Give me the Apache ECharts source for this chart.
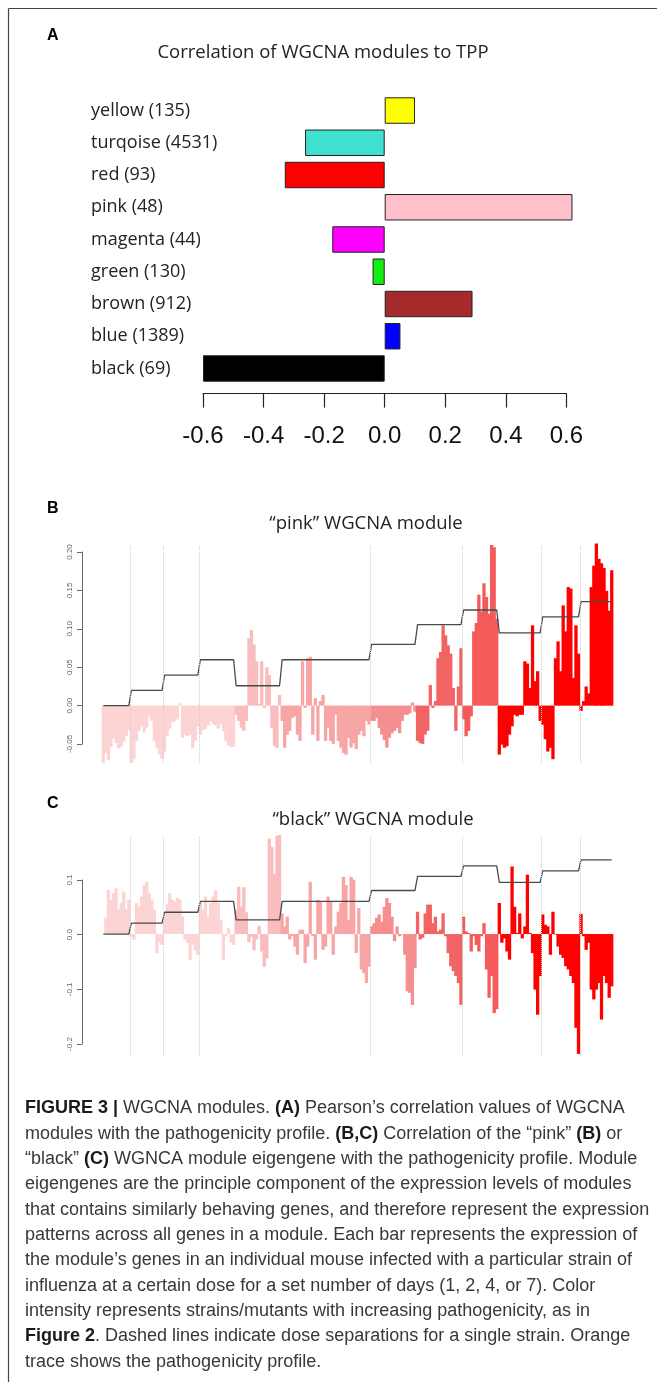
<!DOCTYPE html>
<html><head><meta charset="utf-8">
<script src="https://cdn.jsdelivr.net/npm/echarts@6/dist/echarts.min.js"></script>
<style>html,body{margin:0;padding:0;background:#fff}#c{width:657px;height:1382px}</style>
</head><body><div id="c"></div>
<script>
// ---------- Panel A data ----------
const moduleNames = ['yellow (135)','turqoise (4531)','red (93)','pink (48)','magenta (44)','green (130)','brown (912)','blue (1389)','black (69)'];
const moduleCorr = [0.10,-0.263,-0.33,0.62,-0.173,-0.04,0.29,0.052,-0.60];
const moduleColors = ['#ffff00','#40e0d0','#ff0000','#ffc0cb','#ff00ff','#11ee11','#a52a2a','#0000ff','#000000'];
const corrAxisMin = -0.6, corrAxisMax = 0.6, corrAxisStep = 0.2;

// ---------- Panels B/C data ----------
// number of mice (bars) in each strain/dose group, left to right
const groupSizes = [11,13,14,14,18,35,18,18,14,17,15,13];
// pathogenicity profile level of each group
const pathogenicity = [0,0.02,0.04,0.06,0.026,0.06,0.08,0.106,0.125,0.095,0.116,0.136];
// groups that begin after a dose separation (dashed lines)
const doseBreakGroups = [1,2,3,6,8,10,11];

const pinkEigengene = [
 -0.075,-0.062,-0.071,-0.054,-0.043,-0.049,-0.056,-0.054,-0.047,-0.040,-0.032,
 -0.075,-0.07,-0.046,-0.033,-0.027,-0.035,-0.029,-0.014,-0.02,-0.046,-0.055,-0.064,-0.07,
 -0.06,-0.04,-0.03,-0.022,-0.02,-0.018,0.003,-0.042,-0.038,-0.04,-0.038,-0.055,-0.046,-0.027,
 -0.038,-0.032,-0.03,-0.026,-0.02,-0.024,-0.026,-0.03,-0.024,-0.033,-0.046,-0.052,-0.054,-0.054,
 -0.012,-0.02,-0.029,-0.033,-0.02,0.088,0.099,0.08,0.058,0.002,0.058,-0.003,0.05,0.04,-0.029,-0.053,-0.055,0.014,
 -0.02,-0.055,-0.038,-0.033,-0.016,-0.014,-0.038,-0.046,0.058,-0.003,0.062,0.064,-0.038,0.01,-0.046,0.006,0.014,-0.046,-0.029,-0.046,-0.05,-0.012,-0.046,-0.055,-0.062,-0.064,-0.042,-0.055,-0.049,-0.057,-0.038,-0.033,-0.04,-0.02,-0.025,
 -0.02,-0.02,-0.016,-0.029,-0.038,-0.045,-0.055,-0.042,-0.036,-0.033,-0.029,-0.036,-0.02,-0.012,-0.012,-0.01,0.004,-0.008,
 -0.046,-0.049,-0.05,-0.038,-0.033,0.027,-0.003,0.006,0.062,0.07,0.105,0.092,0.079,0.068,0.023,-0.033,0.025,0.075,
 -0.018,-0.04,-0.033,-0.014,0.097,0.108,0.145,0.123,0.16,0.142,0.12,0.21,0.207,0.114,
 -0.064,-0.051,-0.055,-0.053,-0.038,-0.027,-0.012,-0.014,-0.012,-0.012,0.058,0.055,0.023,0.105,0.032,0.045,-0.02,
 -0.025,-0.044,-0.06,-0.055,-0.07,0.062,0.084,0.045,0.131,0.097,0.155,0.153,0.036,0.105,0.068,
 -0.007,0.006,0.025,0.016,0.155,0.183,0.212,0.192,0.186,0.18,0.15,0.124,0.177
];
const blackEigengene = [
 0.0,0.03,0.081,0.063,0.075,0.084,0.045,0.057,0.078,0.045,0.063,
 -0.005,-0.01,0.057,0.05,0.069,0.09,0.096,0.075,0.063,0.045,-0.035,-0.015,-0.02,
 0.032,0.055,0.075,0.063,0.06,0.066,0.063,0.032,-0.01,-0.016,-0.047,-0.02,-0.03,-0.038,
 0.057,0.045,0.069,0.032,0.057,0.069,0.08,0.057,0.026,-0.047,-0.004,0.011,-0.016,-0.02,
 0.045,0.087,0.05,0.086,0.04,-0.015,-0.005,-0.03,-0.01,0.015,-0.032,-0.06,-0.045,0.175,0.16,0.11,0.18,0.182,
 0.038,0.014,0.032,-0.01,-0.004,-0.023,-0.038,0.008,0.008,-0.053,-0.023,0.096,-0.004,-0.047,0.063,0.06,-0.029,-0.023,0.069,0.06,-0.038,0.014,0.041,0.057,0.105,0.09,0.026,0.105,0.1,-0.035,0.048,-0.065,-0.072,-0.09,-0.06,
 0.014,0.02,0.03,0.036,0.023,0.05,0.066,0.057,0.032,-0.013,0.014,-0.004,-0.001,-0.038,-0.105,-0.108,-0.13,-0.062,
 0.041,-0.01,-0.007,0.038,0.054,0.054,0.02,0.032,0.005,0.008,0.038,-0.004,-0.035,-0.059,-0.068,-0.077,-0.09,-0.13,
 0.032,0.005,0.002,-0.032,-0.004,-0.02,-0.032,-0.004,0.02,-0.065,-0.117,-0.077,-0.145,-0.138,
 0.057,-0.016,-0.008,-0.032,-0.047,0.124,0.05,0.002,0.038,-0.008,0.014,0.109,0.002,-0.035,-0.102,-0.148,-0.077,
 0.036,0.017,0.014,-0.038,0.041,-0.001,-0.023,-0.038,-0.044,-0.059,-0.065,-0.077,-0.09,-0.172,-0.22,
 0.037,-0.004,-0.029,-0.016,-0.102,-0.12,-0.102,-0.09,-0.157,-0.077,-0.09,-0.117,-0.096
];
const pinkTickStep = 0.05, blackTickStep = 0.1;

// ---------- styles ----------
const groupColors = ['#fcd4d4','#fcd4d4','#fcd4d4','#fcd4d4','#f9bdbd','#f7a5a5','#f58e8e','#f26464','#f55a5a','#ff0000','#ff0000','#ff0000'];

// ---------- derived ----------
const groupOf = [];
groupSizes.forEach((n,g)=>{ for(let k=0;k<n;k++) groupOf.push(g); });
const N = groupOf.length;
const sampleIdx = groupOf.map((_,i)=>String(i+1));
const profileLine = groupOf.map(g=>pathogenicity[g]);
const starts = []; let acc = 0; groupSizes.forEach(n=>{ starts.push(acc); acc += n; });
const breaks = doseBreakGroups.map(g=>starts[g]);
function barData(vals){
  return vals.map((v,i)=>({value:v, itemStyle:{color:groupColors[groupOf[i]]}}));
}
const fmt = d => v => (Math.abs(v) < 1e-9 ? 0 : v).toFixed(d);

const chart = echarts.init(document.getElementById('c'), null, {renderer:'canvas'});

function smallAxis(gridIndex, min, max, step, dec){
  return {gridIndex, type:'value', min, max, interval:step, position:'left',
    axisLine:{show:true, lineStyle:{color:'#6a6a6a', width:1}},
    axisTick:{show:true, length:5, lineStyle:{color:'#6a6a6a', width:1}},
    axisLabel:{rotate:90, fontSize:8, color:'#666', margin:8, fontFamily:'Liberation Sans', formatter:fmt(dec)},
    splitLine:{show:false}};
}
const hidden = {show:false};

const captionLines = [
 '{b|FIGURE 3 |} WGCNA modules. {b|(A)} Pearson’s correlation values of WGCNA',
 'modules with the pathogenicity profile. {b|(B,C)} Correlation of the “pink” {b|(B)} or',
 '“black” {b|(C)} WGNCA module eigengene with the pathogenicity profile. Module',
 'eigengenes are the principle component of the expression levels of modules',
 'that contains similarly behaving genes, and therefore represent the expression',
 'patterns across all genes in a module. Each bar represents the expression of',
 'the module’s genes in an individual mouse infected with a particular strain of',
 'influenza at a certain dose for a set number of days (1, 2, 4, or 7). Color',
 'intensity represents strains/mutants with increasing pathogenicity, as in',
 '{b|Figure 2}. Dashed lines indicate dose separations for a single strain. Orange',
 'trace shows the pathogenicity profile.'
];
const capFont = 'Liberation Sans', capSize = 18;
const graphics = [
  {type:'line', shape:{x1:8.5,y1:8.5,x2:657,y2:8.5}, style:{stroke:'#444', lineWidth:1.2}},
  {type:'line', shape:{x1:8.5,y1:8.5,x2:8.5,y2:1382}, style:{stroke:'#444', lineWidth:1.2}},
  {type:'text', x:47, y:36, style:{text:'A', font:'bold 16px Liberation Sans', fill:'#000', verticalAlign:'middle'}},
  {type:'text', x:47, y:509, style:{text:'B', font:'bold 16px Liberation Sans', fill:'#000', verticalAlign:'middle'}},
  {type:'text', x:47, y:804, style:{text:'C', font:'bold 16px Liberation Sans', fill:'#000', verticalAlign:'middle'}},
  {type:'text', x:323, y:53, style:{text:'Correlation of WGCNA modules to TPP', font:'18.5px Open Sans', fill:'#222', align:'center', verticalAlign:'middle'}},
  {type:'text', x:366, y:524, style:{text:'“pink” WGCNA module', font:'18.5px Open Sans', fill:'#222', align:'center', verticalAlign:'middle'}},
  {type:'text', x:373, y:820, style:{text:'“black” WGCNA module', font:'18.5px Open Sans', fill:'#222', align:'center', verticalAlign:'middle'}}
];
captionLines.forEach((t,i)=>{
  graphics.push({type:'text', x:25, y:1108.3 + i*25.34, style:{
    text:t, fontFamily:capFont, fontSize:capSize, fill:'#383838', verticalAlign:'middle',
    rich:{b:{fontFamily:capFont, fontSize:capSize, fontWeight:'bold', fill:'#1a1a1a'}}}});
});

const option = {
  animation:false,
  backgroundColor:'#fff',
  textStyle:{fontFamily:'Open Sans'},
  grid:[
    {left:203, width:363.4, top:94.4, height:290.2},
    {left:102, width:511, top:545, height:218},
    {left:82, width:10, top:552, height:192},
    {left:102, width:511, top:836, height:219},
    {left:82, width:10, top:880, height:164}
  ],
  xAxis:[
    {gridIndex:0, type:'value', min:corrAxisMin, max:corrAxisMax, interval:corrAxisStep, offset:9,
      axisLine:{show:true, lineStyle:{color:'#222', width:1.2}},
      axisTick:{show:true, length:14, lineStyle:{color:'#222', width:1.2}},
      axisLabel:{margin:31, fontSize:24, fontFamily:'Liberation Sans', color:'#111', formatter:fmt(1)},
      splitLine:{show:false}},
    {gridIndex:1, type:'category', data:sampleIdx, show:false, boundaryGap:true},
    {gridIndex:1, type:'value', min:0, max:N, show:false},
    {gridIndex:2, type:'value', show:false},
    {gridIndex:3, type:'category', data:sampleIdx, show:false, boundaryGap:true},
    {gridIndex:3, type:'value', min:0, max:N, show:false},
    {gridIndex:4, type:'value', show:false}
  ],
  yAxis:[
    {gridIndex:0, type:'category', data:moduleNames, inverse:true,
      axisLine:hidden, axisTick:hidden,
      axisLabel:{align:'left', margin:112, fontSize:18, fontFamily:'Open Sans', color:'#222'}},
    {gridIndex:1, type:'value', min:-0.075, max:0.21, show:false},
    smallAxis(2, -0.05, 0.2, pinkTickStep, 2),
    {gridIndex:3, type:'value', min:-0.222, max:0.18, show:false},
    smallAxis(4, -0.2, 0.1, blackTickStep, 1)
  ],
  series:[
    {type:'bar', xAxisIndex:0, yAxisIndex:0, clip:false, barCategoryGap:'18%',
      data: moduleCorr.map((v,i)=>({value:v, itemStyle:{color:moduleColors[i]}})),
      itemStyle:{borderColor:'#222', borderWidth:1}},
    // Panel B
    {type:'line', xAxisIndex:2, yAxisIndex:1, data:[], silent:true, z:1,
      markLine:{silent:true, symbol:'none', label:{show:false},
        lineStyle:{color:'#cdcdcd', type:'dotted', width:1},
        data: breaks.map(b=>({xAxis:b}))}},
    {type:'bar', xAxisIndex:1, yAxisIndex:1, barWidth:3.3, z:2, clip:false,
      itemStyle:{borderWidth:0}, data:barData(pinkEigengene)},
    {type:'line', xAxisIndex:1, yAxisIndex:1, data:profileLine, symbol:'none', z:3,
      lineStyle:{color:'#4a4a4a', width:1.3}},
    // Panel C
    {type:'line', xAxisIndex:5, yAxisIndex:3, data:[], silent:true, z:1,
      markLine:{silent:true, symbol:'none', label:{show:false},
        lineStyle:{color:'#cdcdcd', type:'dotted', width:1},
        data: breaks.map(b=>({xAxis:b}))}},
    {type:'bar', xAxisIndex:4, yAxisIndex:3, barWidth:3.3, z:2, clip:false,
      itemStyle:{borderWidth:0}, data:barData(blackEigengene)},
    {type:'line', xAxisIndex:4, yAxisIndex:3, data:profileLine, symbol:'none', z:3,
      lineStyle:{color:'#4a4a4a', width:1.3}}
  ],
  graphic: graphics
};
chart.setOption(option);
</script>
</body></html>
